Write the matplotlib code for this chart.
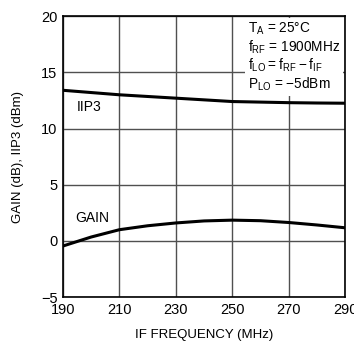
import matplotlib
matplotlib.use("Agg")
import matplotlib.pyplot as plt

plt.rcParams['font.family'] = ['Liberation Sans', 'DejaVu Sans']

# IF frequency (MHz)
freq = [190, 200, 210, 220, 230, 240, 250, 260, 270, 280, 290]
# IIP3 (dBm)
iip3 = [13.4, 13.2, 13.0, 12.85, 12.7, 12.55, 12.4, 12.35, 12.3, 12.27, 12.25]
# GAIN (dB)
gain = [-0.45, 0.35, 1.0, 1.35, 1.6, 1.78, 1.85, 1.8, 1.64, 1.42, 1.17]

xticks = [190, 210, 230, 250, 270, 290]
yticks = [-5, 0, 5, 10, 15, 20]
ytick_labels = ['\u22125', '0', '5', '10', '15', '20']

fig = plt.figure(figsize=(3.54, 3.5), dpi=100)
ax = fig.add_axes([0.178, 0.151, 0.797, 0.803])

ax.plot(freq, iip3, color='black', lw=2.2, zorder=5)
ax.plot(freq, gain, color='black', lw=2.2, zorder=5)

ax.set_xlim(190, 290)
ax.set_ylim(-5, 20)
ax.set_xticks(xticks)
ax.set_yticks(yticks)
ax.set_yticklabels(ytick_labels)
ax.tick_params(length=0, labelsize=10.5, pad=4)
ax.grid(True, color='#505050', lw=1.0)
ax.set_axisbelow(True)
for s in ax.spines.values():
    s.set_linewidth(1.2)

ax.set_xlabel('IF FREQUENCY (MHz)', fontsize=9.5, labelpad=9)
ax.set_ylabel('GAIN (dB), IIP3 (dBm)', fontsize=9.5, labelpad=12)

ax.text(195, 11.95, 'IIP3', fontsize=10, va='center')
ax.text(194.5, 2.0, 'GAIN', fontsize=10, va='center')

note = ('$\\mathregular{T_A}$ = 25\u00b0C\n'
        '$\\mathregular{f_{RF}}$ = 1900MHz\n'
        '$\\mathregular{f_{LO} = f_{RF} \u2212 f_{IF}}$\n'
        '$\\mathregular{P_{LO}}$ = \u22125dBm')
ax.text(255.5, 19.6, note, fontsize=9.8, va='top', ha='left', linespacing=1.1,
        bbox=dict(facecolor='white', edgecolor='none', pad=2), zorder=4)

fig.savefig('out.png', dpi=100)
